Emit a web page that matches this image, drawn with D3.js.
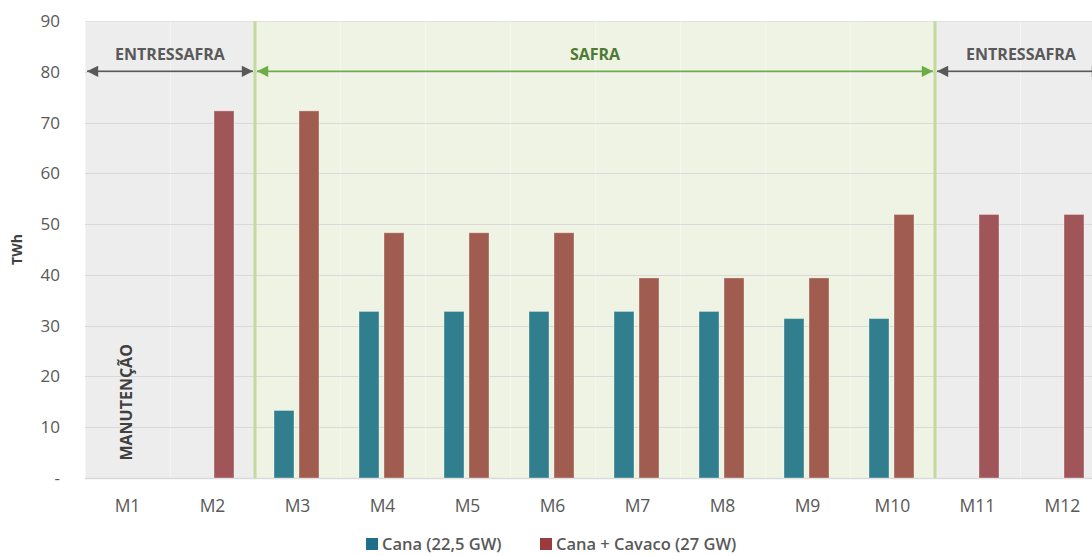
<!DOCTYPE html>
<html>
<head>
<meta charset="utf-8">
<script src="https://cdn.jsdelivr.net/npm/d3@7"></script>
<style>
  body { margin: 0; background: #fff; }
  svg { font-family: "Open Sans", "Noto Sans", sans-serif; }
</style>
</head>
<body>
<svg id="vis" width="1092" height="556"></svg>
<script>
// chart data
const months = ["M1", "M2", "M3", "M4", "M5", "M6", "M7", "M8", "M9", "M10", "M11", "M12"];
const cana = [null, null, 13.3, 32.8, 32.8, 32.8, 32.8, 32.8, 31.4, 31.4, null, null];
const canaCavaco = [null, 72.3, 72.3, 48.3, 48.3, 48.3, 39.4, 39.4, 39.4, 51.9, 51.9, 51.9];
const seriesNames = ["Cana (22,5 GW)", "Cana + Cavaco (27 GW)"];
const yTicks = [0, 10, 20, 30, 40, 50, 60, 70, 80, 90];
const periodLabels = ["ENTRESSAFRA", "SAFRA", "ENTRESSAFRA"];
const periodStart = ["M1", "M3", "M11"];
const periodEnd = ["M2", "M10", "M12"];
const periodSafra = [false, true, false];

let svg = d3.select("#vis");
let margin = {left: 85, top: 21, bottom: 78};
let height = 556;

let x = d3.scaleBand()
  .domain(months)
  .range([margin.left, margin.left + 85 * 12]);

let y = d3.scaleLinear()
  .domain([0, 90])
  .range([height - margin.bottom, margin.top]);

let plotRight = x.range()[1];

// period backgrounds
periodLabels.forEach((lab, i) => {
  let x0 = x(periodStart[i]);
  let x1 = x(periodEnd[i]) + x.bandwidth();
  svg.append("rect")
    .attr("x", x0)
    .attr("y", y(90))
    .attr("width", x1 - x0)
    .attr("height", y(0) - y(90))
    .attr("fill", periodSafra[i] ? "#EFF3E3" : "#EDEDED");
});

// faint vertical separators
months.forEach(m => {
  svg.append("line")
    .attr("x1", x(m) + 0.5).attr("x2", x(m) + 0.5)
    .attr("y1", y(90)).attr("y2", y(0))
    .attr("stroke", "#ffffff")
    .attr("stroke-opacity", 0.45)
    .attr("stroke-width", 1);
});

// horizontal gridlines
svg.append("g")
  .selectAll("line")
  .data(yTicks)
  .enter()
  .append("line")
  .attr("x1", margin.left)
  .attr("x2", plotRight)
  .attr("y1", d => Math.round(y(d)) + 0.5)
  .attr("y2", d => Math.round(y(d)) + 0.5)
  .attr("stroke", d => d == 90 ? "#E2E2E2" : "#D9D9D9")
  .attr("stroke-width", d => d == 0 ? 1.5 : 1);

// y tick labels
svg.append("g")
  .selectAll("text")
  .data(yTicks)
  .enter()
  .append("text")
  .attr("x", 60)
  .attr("y", d => y(d))
  .attr("dy", "0.35em")
  .attr("text-anchor", "end")
  .attr("font-size", 17)
  .attr("fill", "#595959")
  .text(d => d == 0 ? "-" : d);

svg.append("text")
  .attr("transform", `translate(22,${(y(0) + y(90)) / 2}) rotate(-90)`)
  .attr("text-anchor", "middle")
  .attr("font-size", 14)
  .attr("font-weight", "bold")
  .attr("fill", "#404040")
  .text("TWh");

// x labels
svg.append("g")
  .selectAll("text")
  .data(months)
  .enter()
  .append("text")
  .attr("x", d => x(d) + x.bandwidth() / 2)
  .attr("y", 512)
  .attr("text-anchor", "middle")
  .attr("font-size", 17.5)
  .attr("fill", "#595959")
  .text(d => d);

// bars
let inner = d3.scaleBand()
  .domain([0, 1])
  .range([19, 64])
  .paddingInner(0.2);

function inSafra(m) {
  let idx = months.indexOf(m);
  return idx >= months.indexOf(periodStart[1]) && idx <= months.indexOf(periodEnd[1]);
}

[cana, canaCavaco].forEach((vals, s) => {
  svg.append("g")
    .selectAll("rect")
    .data(months.map((m, i) => ({m: m, v: vals[i]})).filter(d => d.v != null))
    .enter()
    .append("rect")
    .attr("x", d => x(d.m) + inner(s))
    .attr("width", inner.bandwidth())
    .attr("y", d => y(d.v))
    .attr("height", d => y(0) - y(d.v))
    .attr("fill", d => s == 0 ? "#317F8E" : (inSafra(d.m) ? "#A05C4E" : "#A05558"))
    .attr("stroke", "#ffffff")
    .attr("stroke-opacity", 0.35)
    .attr("stroke-width", 1);
});

// period separators (green)
[x(periodStart[1]), x(periodEnd[1]) + x.bandwidth()].forEach(px => {
  svg.append("line")
    .attr("x1", px).attr("x2", px)
    .attr("y1", y(90)).attr("y2", y(0))
    .attr("stroke", "#C4D99D")
    .attr("stroke-width", 3);
});

// arrows
let defs = svg.append("defs");
function marker(id, color, orient) {
  defs.append("marker")
    .attr("id", id)
    .attr("viewBox", "0 0 10 10")
    .attr("refX", 10).attr("refY", 5)
    .attr("markerWidth", 12).attr("markerHeight", 7)
    .attr("markerUnits", "strokeWidth")
    .attr("orient", orient)
    .append("path")
    .attr("d", "M0,0 L10,5 L0,10 Z")
    .attr("fill", color);
}
marker("gEnd", "#595959", "auto");
marker("gStart", "#595959", "auto-start-reverse");
marker("vEnd", "#6BAE45", "auto");
marker("vStart", "#6BAE45", "auto-start-reverse");

let arrowY = y(80) - 0.5;
periodLabels.forEach((lab, i) => {
  let x0 = x(periodStart[i]) + 2;
  let x1 = x(periodEnd[i]) + x.bandwidth() - 2;
  let col = periodSafra[i] ? "#6BAE45" : "#595959";
  let mk = periodSafra[i] ? "v" : "g";
  svg.append("line")
    .attr("x1", x0).attr("x2", x1)
    .attr("y1", arrowY).attr("y2", arrowY)
    .attr("stroke", col)
    .attr("stroke-width", 1.6)
    .attr("marker-start", `url(#${mk}Start)`)
    .attr("marker-end", `url(#${mk}End)`);
  let cx = i == 2 ? 1021 : (x0 + x1) / 2;
  svg.append("text")
    .attr("x", cx)
    .attr("y", 60)
    .attr("text-anchor", "middle")
    .attr("font-size", 16)
    .attr("font-weight", "bold")
    .attr("fill", periodSafra[i] ? "#4F7A33" : "#595959")
    .text(lab);
});

// maintenance note
svg.append("text")
  .attr("transform", `translate(${x("M1") + x.bandwidth() / 2 + 4},${y(14.9)}) rotate(-90)`)
  .attr("text-anchor", "middle")
  .attr("font-size", 16)
  .attr("font-weight", "bold")
  .attr("fill", "#404040")
  .text("MANUTENÇÃO");

// legend
const legendColors = ["#1F6E8A", "#9B3B3B"];
const legendX = [366, 540];
seriesNames.forEach((name, i) => {
  svg.append("rect")
    .attr("x", legendX[i])
    .attr("y", 538)
    .attr("width", 12)
    .attr("height", 12)
    .attr("fill", legendColors[i]);
  svg.append("text")
    .attr("x", legendX[i] + 16)
    .attr("y", 550)
    .attr("font-size", 16.5)
    .attr("font-weight", 600)
    .attr("fill", "#595959")
    .text(name);
});
</script>
</body>
</html>
